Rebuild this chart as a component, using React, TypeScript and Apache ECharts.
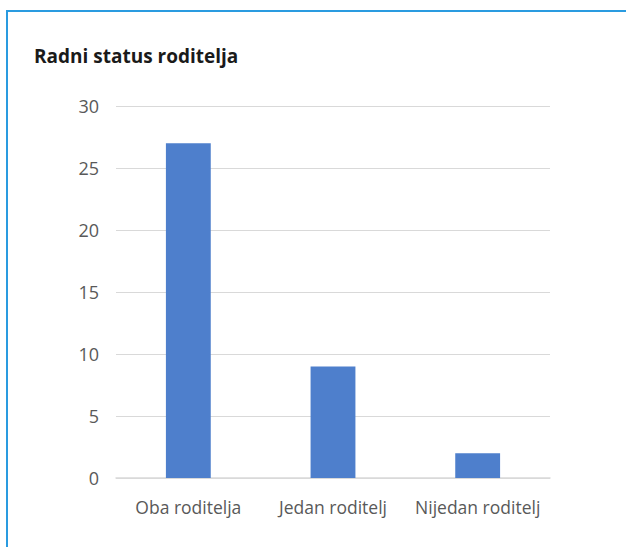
import React, { useEffect, useRef } from "react";
import * as echarts from "echarts";

const categories = ["Oba roditelja", "Jedan roditelj", "Nijedan roditelj"];
const values = [27, 9, 2];
const titleText = "Radni status roditelja";

export default function App() {
  const ref = useRef<HTMLDivElement>(null);
  useEffect(() => {
    if (!ref.current) return;
    const chart = echarts.init(ref.current, null, { renderer: "svg" });
    chart.setOption({
      animation: false,
      backgroundColor: "#ffffff",
      title: {
        text: titleText,
        left: 34,
        top: 46,
        padding: 0,
        textStyle: {
          fontFamily: "Open Sans",
          fontWeight: "bold",
          fontSize: 19,
          color: "#1a1a1a",
        },
      },
      graphic: [
        {
          type: "line",
          shape: { x1: 7, y1: 11, x2: 626, y2: 11 },
          style: { stroke: "#2a9be0", lineWidth: 2 },
        },
        {
          type: "line",
          shape: { x1: 7, y1: 10, x2: 7, y2: 547 },
          style: { stroke: "#2a9be0", lineWidth: 2 },
        },
      ],
      grid: { left: 116, right: 76, top: 106, bottom: 69 },
      xAxis: {
        type: "category",
        data: categories,
        axisTick: { show: false },
        axisLine: { lineStyle: { color: "#d9d9d9", width: 1.5 } },
        axisLabel: {
          interval: 0,
          hideOverlap: false,
          color: "#595959",
          fontFamily: "Open Sans",
          fontSize: 17.5,
          margin: 20,
        },
      },
      yAxis: {
        type: "value",
        min: 0,
        max: 30,
        interval: 5,
        axisLine: { show: false },
        axisTick: { show: false },
        splitLine: { lineStyle: { color: "#d9d9d9", width: 1 } },
        axisLabel: {
          color: "#595959",
          fontFamily: "Open Sans",
          fontSize: 18,
          margin: 17,
        },
      },
      series: [
        {
          type: "bar",
          data: values,
          barWidth: "31%",
          itemStyle: { color: "#4e7fcc" },
        },
      ],
    });
    return () => chart.dispose();
  }, []);
  return (
    <div
      ref={ref}
      style={{ position: "fixed", left: 0, top: 0, width: 626, height: 547 }}
    />
  );
}
